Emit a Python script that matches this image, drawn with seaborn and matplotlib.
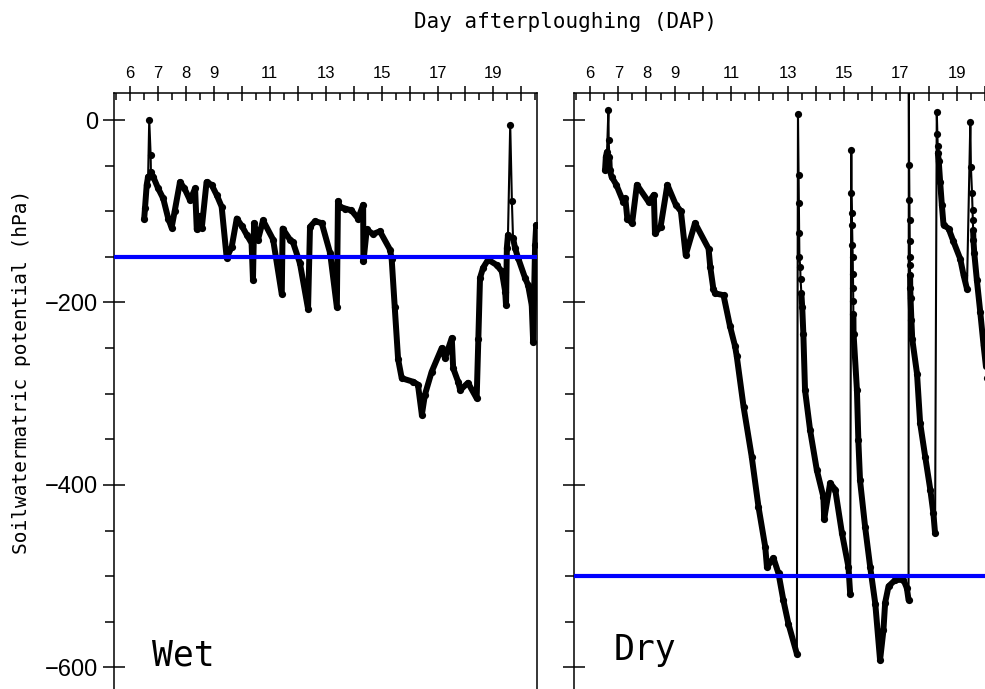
import numpy as np
import pandas as pd
import matplotlib
matplotlib.use("Agg")
import matplotlib.pyplot as plt
import seaborn as sns
from matplotlib.ticker import FixedLocator

# ---------------- data ----------------
wet_day = [6.51, 6.54, 6.60, 6.65, 6.69, 6.74, 6.75, 6.83, 7.01, 7.19, 7.37, 7.49, 7.60, 7.79,
           7.95, 8.15, 8.33, 8.39, 8.50, 8.57, 8.74, 8.92, 9.10, 9.28, 9.46, 9.64, 9.82, 10.00,
           10.18, 10.35, 10.40, 10.44, 10.58, 10.76, 11.12, 11.43, 11.46, 11.72, 11.83, 12.08,
           12.37, 12.44, 12.62, 12.86, 13.16, 13.40, 13.44, 13.51, 13.69, 13.92, 14.16, 14.34,
           14.35, 14.47, 14.69, 14.94, 15.30, 15.36, 15.47, 15.59, 15.72, 16.14, 16.30, 16.44,
           16.55, 16.79, 17.15, 17.27, 17.51, 17.56, 17.74, 17.81, 18.09, 18.40, 18.46, 18.52,
           18.63, 18.81, 19.12, 19.30, 19.42, 19.45, 19.48, 19.52, 19.60, 19.66, 19.70, 19.77,
           19.88, 20.13, 20.24, 20.37, 20.42, 20.49, 20.53]
wet_psi = [-108, -96, -71, -62, 0, -38, -57, -62, -75, -86, -108, -118, -100, -68,
           -75, -88, -75, -120, -105, -118, -68, -71, -82, -95, -151, -139, -108, -116,
           -126, -135, -175, -113, -131, -110, -131, -191, -119, -131, -134, -157,
           -207, -117, -111, -113, -146, -205, -89, -95, -97, -99, -108, -93,
           -155, -120, -125, -122, -142, -152, -205, -262, -283, -287, -290, -323,
           -301, -276, -250, -261, -239, -272, -287, -296, -288, -305, -240, -173,
           -162, -153, -159, -166, -188, -203, -140, -126, -5, -89, -129, -140,
           -151, -173, -181, -203, -243, -137, -115]

dry_day = [6.53, 6.56, 6.60, 6.65, 6.66, 6.68, 6.70, 6.76, 6.93, 7.18, 7.25, 7.32, 7.49, 7.66,
           8.08, 8.26, 8.30, 8.50, 8.74, 9.04, 9.22, 9.39, 9.72, 10.20, 10.26, 10.37, 10.43,
           10.73, 10.96, 11.14, 11.20, 11.44, 11.73, 11.97, 12.21, 12.27, 12.50, 12.68, 12.85,
           13.03, 13.33, 13.37, 13.39, 13.40, 13.41, 13.42, 13.45, 13.46, 13.49, 13.52, 13.56,
           13.62, 13.80, 14.04, 14.27, 14.30, 14.51, 14.69, 14.93, 15.16, 15.22, 15.26, 15.265,
           15.28, 15.285, 15.30, 15.31, 15.32, 15.325, 15.33, 15.335, 15.34, 15.46, 15.51,
           15.57, 15.75, 15.93, 16.11, 16.28, 16.40, 16.46, 16.58, 16.82, 17.11, 17.23, 17.29,
           17.30, 17.31, 17.32, 17.325, 17.33, 17.335, 17.34, 17.345, 17.35, 17.36, 17.39,
           17.42, 17.59, 17.70, 17.88, 18.06, 18.17, 18.23, 18.29, 18.31, 18.32, 18.33, 18.36,
           18.41, 18.47, 18.53, 18.71, 18.88, 19.12, 19.24, 19.36, 19.48, 19.50, 19.54, 19.56,
           19.57, 19.58, 19.59, 19.62, 19.71, 19.83, 19.95, 20.08]
dry_psi = [-55, -40, -35, 11, -22, -40, -55, -62, -71, -90, -86, -108, -113, -71,
           -90, -82, -124, -117, -71, -93, -100, -148, -113, -141, -161, -185, -190,
           -192, -226, -248, -259, -314, -369, -424, -468, -490, -480, -497, -526,
           -552, -585, 7, -60, -91, -124, -150, -161, -174, -190, -205, -234,
           -296, -340, -384, -413, -437, -398, -405, -453, -490, -519, -33, -80,
           -102, -115, -137, -150, -169, -184, -198, -213, -234, -296, -351,
           -395, -446, -490, -530, -592, -559, -529, -511, -504, -504, -513, -526,
           45, -49, -88, -110, -133, -150, -159, -170, -184, -195, -219,
           -240, -278, -332, -369, -405, -431, -453, 9, -15, -28, -36, -45,
           -68, -93, -115, -119, -133, -152, -170, -185, -2, -51, -80, -99,
           -110, -121, -132, -146, -175, -210, -247, -283]

# spans (in days) where consecutive readings are far apart (thin connecting line)
wet_thin_spans = [(6.64, 6.76), (19.51, 19.71)]
dry_thin_spans = [(6.59, 6.69), (13.32, 13.50), (15.21, 15.335), (17.28, 17.345),
                  (18.22, 18.335), (19.35, 19.585)]

wet_threshold = -150
dry_threshold = -500

day_ticks = list(range(6, 21))
day_labels = ['6', '7', '8', '9', '', '11', '', '13', '', '15', '', '17', '', '19', '']
day_minor = [d + 0.5 for d in range(5, 21)]
psi_ticks = [0, -200, -400, -600]
psi_minor = [-50, -100, -150, -250, -300, -350, -450, -500, -550]

title_text = "Day afterploughing (DAP)"
ylabel_text = "Soilwatermatric potential (hPa)"
panel_names = ["Wet", "Dry"]


def make_frame(days, psi, spans):
    df = pd.DataFrame({"day": days, "psi": psi})
    grp = [0]
    for i in range(1, len(df)):
        a, b = df.day[i - 1], df.day[i]
        thin = any(s0 <= a and b <= s1 for s0, s1 in spans)
        grp.append(grp[-1] + (1 if thin else 0))
    df["grp"] = grp
    return df


sns.set_style("white")
plt.rcParams["font.family"] = ["Liberation Sans", "DejaVu Sans"]
plt.rcParams["axes.linewidth"] = 1.1
plt.rcParams["axes.edgecolor"] = "black"
plt.rcParams["text.color"] = "black"
plt.rcParams["xtick.color"] = "black"
plt.rcParams["ytick.color"] = "black"
plt.rcParams["axes.labelcolor"] = "black"

fig = plt.figure(figsize=(9.85, 6.89), dpi=100)
H = 596 / 689
axL = fig.add_axes([114 / 985, 0, 422.5 / 985, H])
axR = fig.add_axes([574 / 985, 0, 411 / 985, H])

panels = [
    (axL, make_frame(wet_day, wet_psi, wet_thin_spans), wet_threshold, (5.43, 20.54), panel_names[0], (0.09, 0.04)),
    (axR, make_frame(dry_day, dry_psi, dry_thin_spans), dry_threshold, (5.43, 20.0), panel_names[1], (0.097, 0.049)),
]

for ax, df, thr, xlim, name, pos in panels:
    sns.lineplot(data=df, x="day", y="psi", sort=False, estimator=None, color="black",
                 lw=1.5, marker="o", markersize=5.2, markeredgewidth=0, ax=ax, legend=False)
    sns.lineplot(data=df, x="day", y="psi", units="grp", sort=False, estimator=None,
                 color="black", lw=4.3, ax=ax, legend=False)
    ax.axhline(thr, color="#0000ff", lw=3.0, zorder=5)

    ax.set_xlim(*xlim)
    ax.set_ylim(-623.6, 29.6)
    ax.set_xlabel("")
    ax.set_ylabel("")

    ax.xaxis.tick_top()
    ax.xaxis.set_major_locator(FixedLocator(day_ticks))
    ax.set_xticklabels(day_labels)
    ax.xaxis.set_minor_locator(FixedLocator(day_minor))
    ax.yaxis.set_major_locator(FixedLocator(psi_ticks))
    ax.yaxis.set_minor_locator(FixedLocator(psi_minor))

    ax.tick_params(axis="x", which="major", direction="inout", length=10.8, width=1.1,
                   labelsize=12, pad=3.5, top=True, bottom=False, colors="black")
    ax.tick_params(axis="x", which="minor", direction="in", length=5.2, width=1.1,
                   top=True, bottom=False)
    ax.tick_params(axis="y", which="major", direction="inout", length=16, width=1.1,
                   labelsize=17, pad=3.5, left=True, right=False, colors="black")
    ax.tick_params(axis="y", which="minor", direction="out", length=6.5, width=1.1,
                   left=True, right=False)

    ax.spines["bottom"].set_visible(False)
    ax.grid(False)
    ax.text(pos[0], pos[1], name, transform=ax.transAxes, fontsize=25, color="black",
            family=["DejaVu Sans Mono"], va="baseline", ha="left")

axL.spines["right"].set_visible(True)
axR.spines["right"].set_visible(False)
axR.tick_params(axis="y", which="both", labelleft=False)

fig.text(566 / 985, 1 - 22 / 689, title_text, ha="center", va="center", color="black",
         fontsize=15, family=["DejaVu Sans Mono"])
fig.text(22 / 985, 1 - 372 / 689, ylabel_text, ha="center", va="center", rotation=90,
         color="black", fontsize=14, family=["DejaVu Sans Mono"])

fig.savefig("out.png", dpi=100, facecolor="white")
